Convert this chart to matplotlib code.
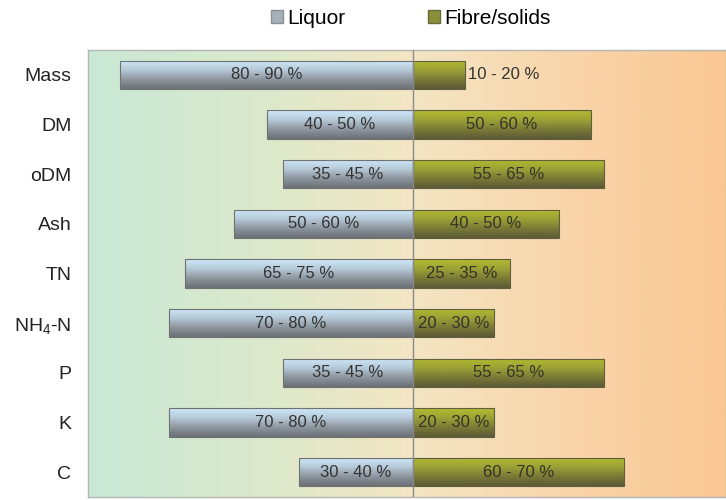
import matplotlib
matplotlib.use("Agg")
import matplotlib.pyplot as plt
import numpy as np
from matplotlib.colors import LinearSegmentedColormap
from matplotlib.patches import Patch

plt.rcParams['font.family'] = ['Liberation Sans', 'DejaVu Sans']
plt.rcParams['mathtext.default'] = 'regular'

# data (bar length in %, label text)
categories   = ["Mass", "DM", "oDM", "Ash", "TN", "NH$_4$-N", "P", "K", "C"]
liquor       = [90, 45, 40, 55, 70, 75, 40, 75, 35]
fibre        = [16, 55, 59, 45, 30, 25, 59, 25, 65]
liquor_txt   = ["80 - 90 %", "40 - 50 %", "35 - 45 %", "50 - 60 %", "65 - 75 %",
                "70 - 80 %", "35 - 45 %", "70 - 80 %", "30 - 40 %"]
fibre_txt    = ["10 - 20 %", "50 - 60 %", "55 - 65 %", "40 - 50 %", "25 - 35 %",
                "20 - 30 %", "55 - 65 %", "20 - 30 %", "60 - 70 %"]

bg_cmap  = LinearSegmentedColormap.from_list("bg", ["#c9e8d6", "#d9e9cc", "#f3e6c4", "#f9d5ab", "#f9c893"])
liq_cmap = LinearSegmentedColormap.from_list("liq", ["#cde8fa", "#b7cad8", "#8d969e", "#6b7075"])
fib_cmap = LinearSegmentedColormap.from_list("fib", ["#b3bb30", "#9da236", "#7a7b36", "#5b5a36"])

fig = plt.figure(figsize=(7.26, 5.0), dpi=100)
ax = fig.add_axes([88/726, 3/500, 1 - 88/726, 447/500])

xmin, xmax = -100, 96.5
y = np.arange(len(categories))

ax.set_xlim(xmin, xmax)
ax.set_ylim(len(categories) - 0.5, -0.5)

# background gradient
grad = np.linspace(0, 1, 256).reshape(1, -1)
ax.imshow(grad, cmap=bg_cmap, extent=[xmin, xmax, len(categories) - 0.5, -0.5],
          aspect='auto', zorder=0)

h = 0.57
bars_l = ax.barh(y, [-v for v in liquor], height=h, color='none', edgecolor='#707272', linewidth=0.8, zorder=3)
bars_r = ax.barh(y, fibre, height=h, color='none', edgecolor='#5f5e3e', linewidth=0.8, zorder=3)

vgrad = np.linspace(0, 1, 64).reshape(-1, 1)
for bars, cmap in [(bars_l, liq_cmap), (bars_r, fib_cmap)]:
	for b in bars:
		x0, x1 = sorted([b.get_x(), b.get_x() + b.get_width()])
		y0 = b.get_y()
		y1 = y0 + b.get_height()
		im = ax.imshow(vgrad, cmap=cmap, extent=[x0, x1, y1, y0], aspect='auto', zorder=2)
		im.set_clip_path(b)

ax.set_xlim(xmin, xmax)
ax.set_ylim(len(categories) - 0.5, -0.5)

ax.axvline(0, color='#8a8a8a', linewidth=1.0, zorder=4)

for i in range(len(categories)):
	ax.text(-liquor[i]/2, y[i], liquor_txt[i], ha='center', va='center', fontsize=12, color='#333333', zorder=5)
	if fibre[i] < 20:
		ax.text(fibre[i] + 1, y[i], fibre_txt[i], ha='left', va='center', fontsize=12, color='#333333', zorder=5)
	else:
		ax.text(fibre[i]/2, y[i], fibre_txt[i], ha='center', va='center', fontsize=12, color='#333328', zorder=5)

ax.set_yticks(y)
ax.set_yticklabels(categories, fontsize=14, color='#222222')
ax.tick_params(axis='y', length=0, pad=12)
ax.set_xticks([])
for s in ax.spines.values():
	s.set_color('#b5b5b5')
	s.set_linewidth(1.0)

handles = [Patch(facecolor='#a7b0b8', edgecolor='#8a8f94', label='Liquor'),
           Patch(facecolor='#8a8f3c', edgecolor='#6a6b38', label='Fibre/solids')]
fig.legend(handles=handles, loc='center', bbox_to_anchor=(0.566, 0.963), ncol=2, frameon=False,
           fontsize=15, handlelength=0.55, handleheight=0.55, handletextpad=0.2, columnspacing=4.0)

fig.savefig("out.png", dpi=100)
